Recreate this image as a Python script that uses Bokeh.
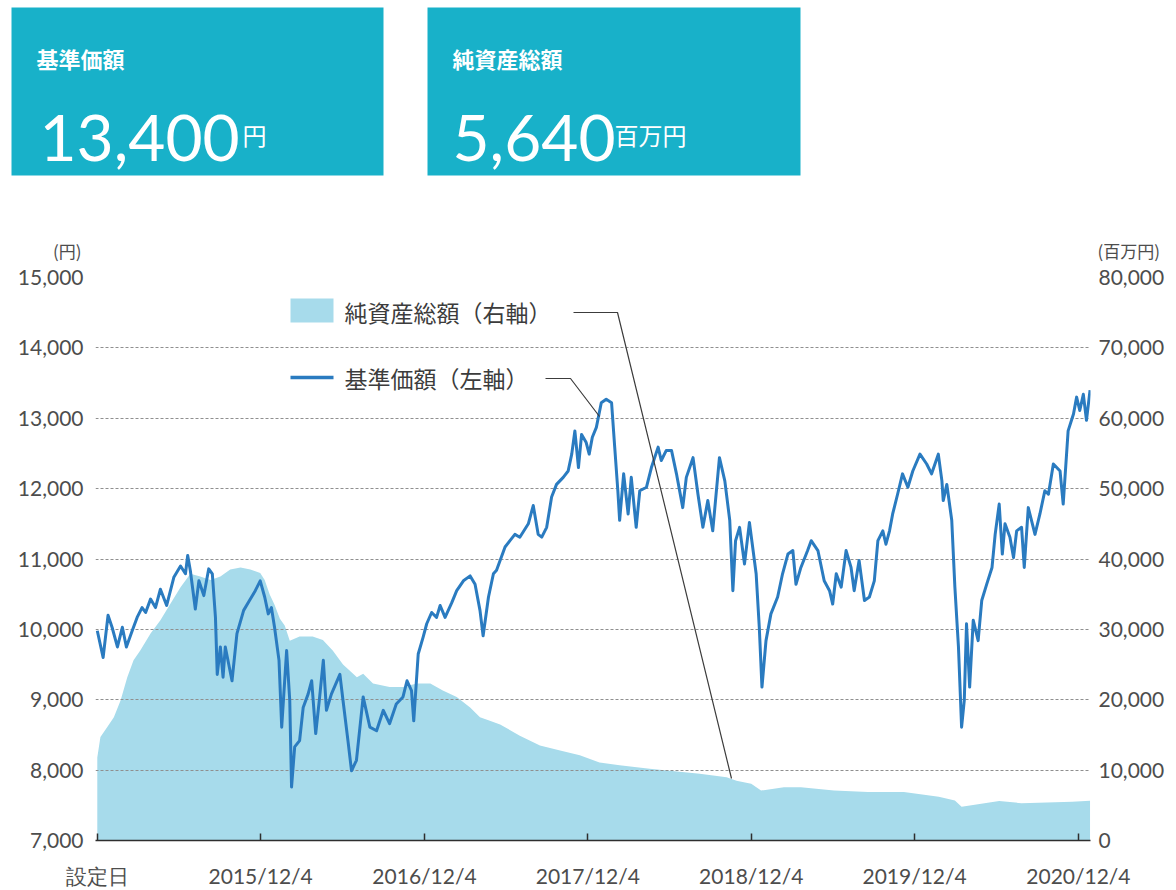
import pandas as pd
from bokeh.plotting import figure
from bokeh.models import Range1d, LinearAxis, FixedTicker, NumeralTickFormatter, Label
from bokeh.layouts import column
from bokeh.embed import file_html
from bokeh.resources import INLINE
from bokeh.core.properties import value

# ---------------- data ----------------
nav_dates = [
    "2014-12-04", "2014-12-17", "2014-12-28", "2015-01-06", "2015-01-18", "2015-01-29", "2015-02-07", "2015-02-20",
    "2015-03-03", "2015-03-14", "2015-03-22", "2015-04-02", "2015-04-13", "2015-04-24", "2015-05-08", "2015-05-24",
    "2015-06-08", "2015-06-19", "2015-06-24", "2015-06-30", "2015-07-11", "2015-07-19", "2015-07-30", "2015-08-10",
    "2015-08-18", "2015-08-25", "2015-08-29", "2015-09-05", "2015-09-11", "2015-09-16", "2015-10-01", "2015-10-12",
    "2015-10-27", "2015-11-09", "2015-11-22", "2015-12-03", "2015-12-13", "2015-12-21", "2015-12-28", "2016-01-04",
    "2016-01-14", "2016-01-20", "2016-01-31", "2016-02-07", "2016-02-11", "2016-02-18", "2016-02-29", "2016-03-08",
    "2016-03-19", "2016-03-27", "2016-04-05", "2016-04-13", "2016-04-22", "2016-04-29", "2016-05-10", "2016-05-29",
    "2016-06-05", "2016-06-16", "2016-06-24", "2016-07-05", "2016-07-20", "2016-08-04", "2016-08-19", "2016-09-03",
    "2016-09-17", "2016-10-02", "2016-10-17", "2016-10-26", "2016-11-05", "2016-11-10", "2016-11-20", "2016-12-01",
    "2016-12-09", "2016-12-20", "2016-12-31", "2017-01-08", "2017-01-19", "2017-02-03", "2017-02-14", "2017-03-01",
    "2017-03-16", "2017-03-27", "2017-04-07", "2017-04-14", "2017-04-26", "2017-05-07", "2017-05-14", "2017-06-02",
    "2017-06-13", "2017-06-24", "2017-07-05", "2017-07-24", "2017-08-04", "2017-08-15", "2017-08-23", "2017-09-03",
    "2017-09-14", "2017-09-25", "2017-10-10", "2017-10-21", "2017-10-29", "2017-11-05", "2017-11-13", "2017-11-20",
    "2017-11-30", "2017-12-07", "2017-12-14", "2017-12-23", "2018-01-03", "2018-01-14", "2018-01-26", "2018-02-02",
    "2018-02-09", "2018-02-13", "2018-02-22", "2018-03-04", "2018-03-11", "2018-03-22", "2018-03-30", "2018-04-14",
    "2018-04-25", "2018-05-10", "2018-05-17", "2018-05-28", "2018-06-09", "2018-06-20", "2018-07-04", "2018-07-12",
    "2018-07-27", "2018-08-07", "2018-08-18", "2018-08-29", "2018-09-09", "2018-09-24", "2018-10-06", "2018-10-17",
    "2018-10-24", "2018-10-30", "2018-11-08", "2018-11-19", "2018-11-30", "2018-12-15", "2018-12-22", "2018-12-28",
    "2019-01-06", "2019-01-17", "2019-02-01", "2019-02-12", "2019-02-24", "2019-03-07", "2019-03-14", "2019-03-25",
    "2019-04-09", "2019-04-17", "2019-05-02", "2019-05-16", "2019-05-28", "2019-06-04", "2019-06-12", "2019-06-23",
    "2019-07-04", "2019-07-15", "2019-07-22", "2019-08-02", "2019-08-14", "2019-08-25", "2019-09-05", "2019-09-13",
    "2019-09-24", "2019-10-01", "2019-10-09", "2019-10-16", "2019-10-27", "2019-11-07", "2019-11-19", "2019-11-30",
    "2019-12-16", "2019-12-31", "2020-01-11", "2020-01-26", "2020-02-03", "2020-02-06", "2020-02-14", "2020-02-25",
    "2020-03-03", "2020-03-11", "2020-03-18", "2020-03-24", "2020-03-29", "2020-04-05", "2020-04-13", "2020-04-24",
    "2020-05-02", "2020-05-13", "2020-05-25", "2020-06-01", "2020-06-10", "2020-06-17", "2020-06-23", "2020-07-04",
    "2020-07-12", "2020-07-19", "2020-07-30", "2020-08-05", "2020-08-14", "2020-08-29", "2020-09-09", "2020-09-20",
    "2020-09-28", "2020-10-09", "2020-10-24", "2020-10-31", "2020-11-11", "2020-11-23", "2020-11-30", "2020-12-07",
    "2020-12-15", "2020-12-22", "2020-12-30",
]
nav_values = [
    9980, 9600, 10200, 10030, 9750, 10030, 9750, 9980,
    10170, 10310, 10240, 10430, 10310, 10570, 10340, 10740,
    10900, 10790, 11050, 10830, 10290, 10690, 10480, 10860,
    10790, 10170, 9360, 9750, 9320, 9750, 9270, 9940,
    10270, 10410, 10550, 10690, 10460, 10220, 10310, 10030,
    9560, 8610, 9700, 8990, 7760, 8330, 8420, 8890,
    9080, 9270, 8520, 8990, 9560, 8850, 9080, 9360,
    8990, 8420, 7990, 8140, 9040, 8610, 8560, 8850,
    8660, 8940, 9040, 9270, 9130, 8700, 9650, 9890,
    10080, 10240, 10170, 10340, 10170, 10380, 10550, 10690,
    10760, 10640, 10270, 9910, 10460, 10790, 10840, 11170,
    11260, 11350, 11310, 11500, 11760, 11350, 11310, 11450,
    11880, 12060, 12160, 12250, 12490, 12820, 12300, 12770,
    12660, 12490, 12730, 12870, 13220, 13270, 13220, 12590,
    11970, 11550, 12210, 11640, 12160, 11450, 11970, 12020,
    12300, 12590, 12400, 12540, 12540, 12210, 11730, 12160,
    12440, 11920, 11450, 11830, 11400, 12440, 12110, 11550,
    10550, 11260, 11450, 10930, 11520, 10790, 10030, 9180,
    9840, 10220, 10460, 10790, 11070, 11120, 10640, 10880,
    11120, 11260, 11120, 10690, 10550, 10360, 10790, 10600,
    11120, 10880, 10550, 10980, 10410, 10460, 10690, 11260,
    11400, 11210, 11400, 11640, 11920, 12210, 12020, 12250,
    12490, 12350, 12210, 12490, 12110, 11830, 12060, 11550,
    10600, 9750, 8610, 8990, 10080, 9180, 10130, 9840,
    10410, 10640, 10880, 11350, 11780, 11070, 11500, 11310,
    11020, 11400, 11450, 10880, 11730, 11350, 11640, 11970,
    11920, 12350, 12250, 11780, 12820, 13060, 13300, 13110,
    13340, 12970, 13400,
]

aum_dates = [
    "2014-12-04", "2014-12-11", "2014-12-26", "2015-01-10", "2015-01-25", "2015-02-09", "2015-02-23", "2015-03-10",
    "2015-04-02", "2015-04-24", "2015-05-16", "2015-06-08", "2015-06-30", "2015-07-22", "2015-08-14", "2015-09-05",
    "2015-09-27", "2015-10-20", "2015-11-11", "2015-12-03", "2015-12-13", "2015-12-24", "2016-01-04", "2016-01-16",
    "2016-01-27", "2016-02-07", "2016-02-29", "2016-03-29", "2016-04-21", "2016-05-13", "2016-06-05", "2016-07-06",
    "2016-07-20", "2016-08-11", "2016-09-17", "2016-10-17", "2016-11-17", "2016-12-17", "2017-01-14", "2017-02-14",
    "2017-03-16", "2017-04-07", "2017-04-29", "2017-05-22", "2017-07-05", "2017-08-19", "2017-10-03", "2017-11-16",
    "2017-12-30", "2018-02-13", "2018-04-21", "2018-08-11", "2018-10-10", "2018-11-01", "2018-12-04", "2018-12-26",
    "2019-02-15", "2019-03-25", "2019-06-07", "2019-08-22", "2019-11-10", "2020-01-27", "2020-03-03", "2020-03-18",
    "2020-04-09", "2020-06-10", "2020-07-30", "2020-11-20", "2020-12-30",
]
aum_values = [
    11800, 14700, 16100, 17500, 19900, 23200, 25600, 27000,
    29400, 31300, 33600, 36000, 37900, 37500, 37000, 37500,
    38500, 38800, 38500, 38000, 37000, 35000, 33500, 31500,
    30500, 28400, 29000, 29000, 28500, 27000, 25000, 23200,
    23700, 22300, 21800, 21800, 22300, 22300, 21300, 20400,
    18900, 17500, 17000, 16500, 14900, 13500, 12800, 12100,
    11100, 10700, 10200, 9500, 9000, 8500, 8050, 7100,
    7570, 7570, 7100, 6900, 6900, 6200, 5700, 4800,
    5000, 5600, 5300, 5500, 5640,
]

left_ticks = [7000, 8000, 9000, 10000, 11000, 12000, 13000, 14000, 15000]
right_ticks = [0, 10000, 20000, 30000, 40000, 50000, 60000, 70000, 80000]
x_tick_dates = ["2014-12-04", "2015-12-04", "2016-12-04", "2017-12-04", "2018-12-04", "2019-12-04", "2020-12-04"]
x_tick_labels = ["設定日", "2015/12/4", "2016/12/4", "2017/12/4", "2018/12/4", "2019/12/4", "2020/12/4"]

nav_name = "基準価額"
aum_name = "純資産総額"
nav_unit = "円"
aum_unit = "百万円"
legend_aum = "純資産総額（右軸）"
legend_nav = "基準価額（左軸）"

# ---------------- style ----------------
TEAL = "#18b1c9"
AREA = "#a7dbeb"
LINE = "#2a7bc0"
TXT = "#4d4d4d"
JP = "Noto Sans CJK JP"
NUM = "Lato"
W, H = 1176, 890
TOP_H = 262


def ms(d):
    return int(pd.Timestamp(d).value // 10**6)


# ---------------- top boxes (page pixel coordinates) ----------------
top = figure(width=W, height=TOP_H, x_range=Range1d(0, W), y_range=Range1d(TOP_H, 0),
             toolbar_location=None, output_backend="svg", x_axis_location=None,
             y_axis_location=None, min_border=0, outline_line_color=None)
top.frame_align = False
top.grid.visible = False
top.quad(left=[11, 427], right=[383, 800], top=[7, 7], bottom=[175, 175],
         fill_color=TEAL, line_color=None)
top.text(x=[36, 452], y=[57, 57], text=[nav_name, aum_name], text_font=value(JP),
         text_font_size="22px", text_font_style="bold", text_color="white", text_baseline="middle")
top.text(x=[39, 452], y=[137, 137], text=[f"{nav_values[-1]:,}", f"{aum_values[-1]:,}"],
         text_font=value(NUM), text_font_size="64px", text_color="white", text_baseline="alphabetic")
top.text(x=[242, 614], y=[134, 134], text=[nav_unit, aum_unit], text_font=value(JP),
         text_font_size="24px", text_color="white", text_baseline="alphabetic")
# axis unit captions
top.text(x=[81], y=[250], text=["(" + nav_unit + ")"], text_align="right", text_baseline="middle",
         text_font=value(JP), text_font_size="17px", text_color=TXT)
top.text(x=[1097], y=[250], text=["(" + aum_unit + ")"], text_align="left", text_baseline="middle",
         text_font=value(JP), text_font_size="17px", text_color=TXT)

# ---------------- chart ----------------
X0 = ms("2014-11-30")
X1 = ms("2020-12-31")
F_L, F_R, F_T, F_B = 95, 1090, 277, 840  # frame edges on the page (for annotation placement)


def px_x(px):
    return X0 + (px - F_L) / (F_R - F_L) * (X1 - X0)


def px_y(py):
    return left_ticks[0] + (F_B - py) / (F_B - F_T) * (left_ticks[-1] - left_ticks[0])


p = figure(width=W, height=H - TOP_H, x_axis_type="datetime",
           x_range=Range1d(X0, X1), y_range=Range1d(left_ticks[0], left_ticks[-1]),
           toolbar_location=None, output_backend="svg",
           min_border_left=F_L, min_border_right=W - F_R,
           min_border_top=F_T - TOP_H, min_border_bottom=H - F_B,
           outline_line_color=None)
p.frame_align = False
p.extra_y_ranges = {"aum": Range1d(right_ticks[0], right_ticks[-1])}

nav_x = [ms(d) for d in nav_dates]
aum_x = [ms(d) for d in aum_dates]

area = p.varea(x=aum_x, y1=[0] * len(aum_x), y2=aum_values, y_range_name="aum",
               fill_color=AREA, fill_alpha=1.0)
area.level = "image"

p.line(nav_x, nav_values, line_color=LINE, line_width=3, line_join="round")

# grid
p.xgrid.visible = False
p.ygrid.ticker = FixedTicker(ticks=left_ticks[1:])
p.ygrid.grid_line_color = "#8f8f8f"
p.ygrid.grid_line_dash = "3 2"
p.ygrid.grid_line_width = 1

# left axis
ya = p.yaxis[0]
ya.ticker = FixedTicker(ticks=left_ticks)
ya.formatter = NumeralTickFormatter(format="0,0")
ya.axis_line_color = None
ya.major_tick_line_color = None
ya.major_tick_out = 0
ya.major_tick_in = 0
ya.minor_tick_line_color = None
ya.major_label_text_font = NUM
ya.major_label_text_font_size = "21px"
ya.major_label_text_color = TXT
ya.major_label_standoff = 12

# right axis
ra = LinearAxis(y_range_name="aum", ticker=FixedTicker(ticks=right_ticks),
                formatter=NumeralTickFormatter(format="0,0"))
ra.axis_line_color = None
ra.major_tick_line_color = None
ra.major_tick_out = 0
ra.major_tick_in = 0
ra.minor_tick_line_color = None
ra.major_label_text_font = NUM
ra.major_label_text_font_size = "21px"
ra.major_label_text_color = TXT
ra.major_label_standoff = 8
p.add_layout(ra, "right")

# bottom axis
xtick_ms = [ms(d) for d in x_tick_dates]
xa = p.xaxis[0]
xa.ticker = FixedTicker(ticks=xtick_ms)
xa.major_label_overrides = dict(zip(xtick_ms, x_tick_labels))
xa.axis_line_color = "#2e2e2e"
xa.axis_line_width = 1.5
xa.major_tick_in = 7
xa.major_tick_out = 0
xa.major_tick_line_color = "#2e2e2e"
xa.major_tick_line_width = 1.5
xa.minor_tick_line_color = None
xa.major_label_text_font = NUM
xa.major_label_text_font_size = "21px"
xa.major_label_text_color = TXT
xa.major_label_standoff = 22

# legend
p.quad(left=[px_x(290)], right=[px_x(333)], top=[px_y(298)], bottom=[px_y(322)],
       fill_color=AREA, line_color=None)
p.line([px_x(290), px_x(333)], [px_y(377), px_y(377)], line_color=LINE, line_width=3.5)
p.add_layout(Label(x=px_x(344), y=px_y(311), text=legend_aum, text_baseline="middle",
                   text_font=JP, text_font_size="23px", text_color="#3c3c3c"))
p.add_layout(Label(x=px_x(344), y=px_y(377), text=legend_nav, text_baseline="middle",
                   text_font=JP, text_font_size="23px", text_color="#3c3c3c"))

# leader lines
p.line([px_x(573), px_x(617), px_x(731)], [px_y(312), px_y(312), px_y(778)],
       line_color="#3c3c3c", line_width=1.2)
p.line([px_x(545), px_x(570), px_x(599)], [px_y(378), px_y(378), px_y(416)],
       line_color="#3c3c3c", line_width=1.2)

layout = column(top, p, spacing=0)
with open("out.html", "w", encoding="utf-8") as f:
    f.write(file_html(layout, INLINE))
